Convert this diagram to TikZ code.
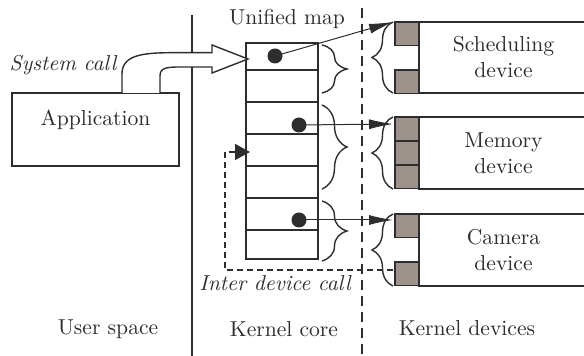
\documentclass[tikz,border=0pt]{standalone}
\usetikzlibrary{positioning,arrows.meta,decorations.pathreplacing}
\definecolor{SlotGray}{RGB}{158,146,141}
\definecolor{InkGray}{RGB}{45,45,45}

\begin{document}
\begin{tikzpicture}[x=0.5pt,y=-0.5pt,color=InkGray,line width=0.7pt,
        every node/.style={font=\fontsize{10.8}{13}\selectfont},
        callname/.style={font=\itshape\fontsize{10.8}{13}\selectfont},
        devbox/.style={draw, minimum width=84.5pt, minimum height=36pt, align=center},
        slotbox/.style={draw, fill=SlotGray, line width=0.9pt},
        mapdot/.style={circle, fill, inner sep=0pt, minimum size=7.5pt},
        ptr/.style={line width=0.5pt, -{Latex[length=12pt,width=5pt]}},
        mapbrace/.style={decorate, decoration={brace, amplitude=12.5pt}},
        devbrace/.style={decorate, decoration={brace, amplitude=10.5pt}}]
                \useasboundingbox (0,0) rectangle (584,356);

                % space boundaries
                \draw[line width=1.3pt] (192,15) -- (192,356);
                \draw[line width=1pt, dash pattern=on 5pt off 3pt] (362,8) -- (362,356);

                % unified map
                \draw (246,43) rectangle (318,259);
                \foreach \y in {70,102,134,166,198,230}
                    \draw (246,\y) -- (318,\y);
                \node (maplbl) at (287,19) {Unified map};

                \draw[mapbrace] (322,45)  -- (322,93);
                \draw[mapbrace] (322,105) -- (322,189);
                \draw[mapbrace] (322,201) -- (322,261);

                % application and system call
                \node[draw, minimum width=83.5pt, minimum height=36.5pt] (appbox) at (95.5,129.5) {};
                \node (app) at (95.5,120) {Application};
                \node[callname] (syscall) at (63,65) {System call};

                \filldraw[fill=white] (122,93) -- (122,74) .. controls (122,56) and (140,52.7) .. (172,52.7)
                    -- (212,52.7) -- (212,45) -- (248,59) -- (212,73) -- (212,67) -- (180,67)
                    .. controls (166,67) and (160,68) .. (160,76) -- (160,93);

                % kernel devices
                \node[devbox, minimum height=35.5pt] (sched) at (503.5,57.5) {Scheduling\\device};
                \node[devbox] (mem) at (503.5,153) {Memory\\device};
                \node[devbox] (cam) at (503.5,250) {Camera\\device};

                \foreach \top in {22,70,117,141,165,214,262}
                    \draw[slotbox] (395,\top) rectangle ++(24,23.5);

                \draw[devbrace] (393,93)  -- (393,22);
                \draw[devbrace] (393,189) -- (393,117);
                \draw[devbrace] (393,286) -- (393,214);

                % pointers from the map
                \node[mapdot] (dotsched) at (275,56)  {};
                \node[mapdot] (dotmem)   at (299,125) {};
                \node[mapdot] (dotcam)   at (299,220) {};

                \coordinate (schedin) at (393,22);
                \coordinate (memin)   at (393,124);
                \coordinate (camin)   at (393,220);

                \draw[ptr] (dotsched.center) -- (schedin);
                \draw[ptr] (dotmem.center)   -- (memin);
                \draw[ptr] (dotcam.center)   -- (camin);

                % inter device call
                \coordinate (idcfrom) at (393,270);
                \coordinate (idcturn) at (225,270);
                \coordinate (idcto)   at (250,152);
                \draw[line width=0.7pt, dash pattern=on 3pt off 2pt, -{Triangle[length=7.5pt,width=8pt]}]
                    (idcfrom) -- (idcturn) |- (idcto);
                \node[callname] (idc) at (275,283) {Inter device call};

                % region labels
                \node (user) at (108,329) {User space};
                \node (core) at (284,329) {Kernel core};
                \node (devs) at (467,328) {Kernel devices};
            \end{tikzpicture}
\end{document}
